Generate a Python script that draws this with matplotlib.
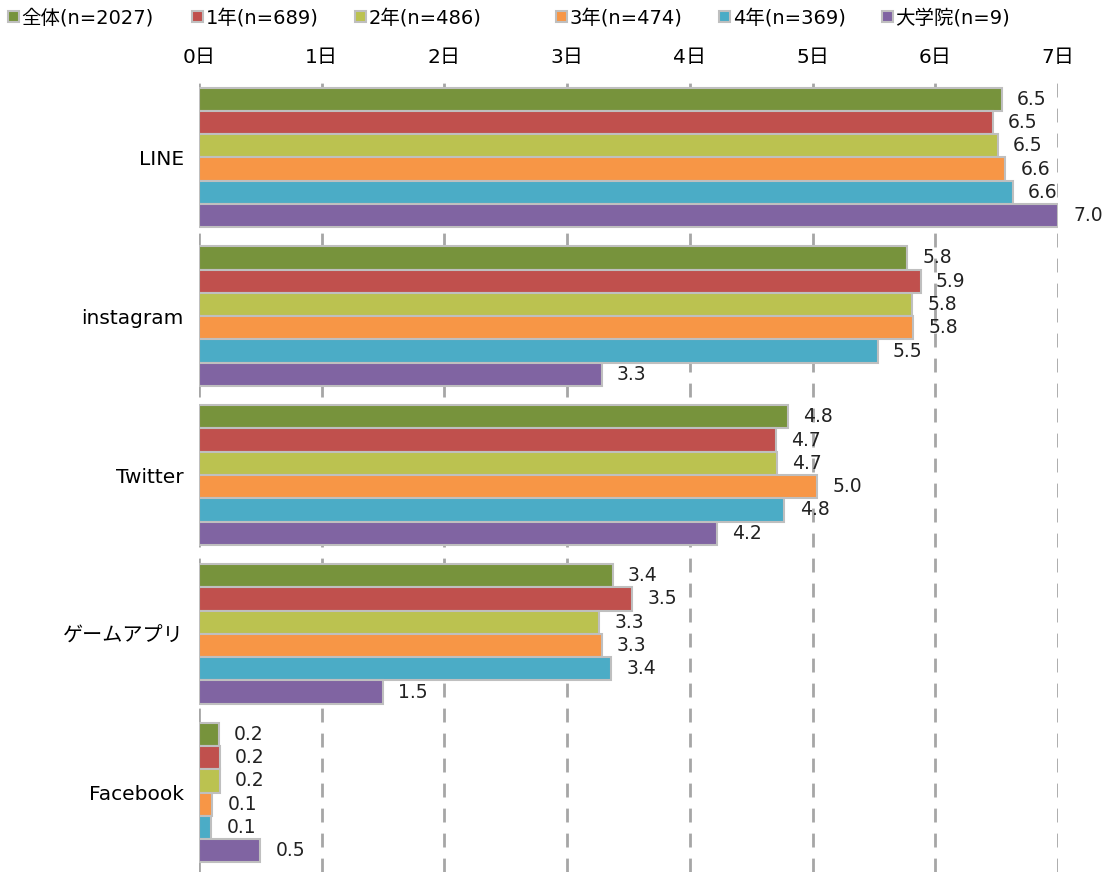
import matplotlib
matplotlib.use("Agg")
import matplotlib.pyplot as plt
from matplotlib.patches import Patch
import numpy as np

plt.rcParams['font.family'] = ['DejaVu Sans', 'Noto Sans CJK JP']

categories = ["LINE", "instagram", "Twitter", "ゲームアプリ", "Facebook"]
series_names = ["全体(n=2027)", "1年(n=689)", "2年(n=486)", "3年(n=474)", "4年(n=369)", "大学院(n=9)"]
v_all   = [6.54, 5.77, 4.80, 3.37, 0.16]
v_y1    = [6.47, 5.88, 4.70, 3.53, 0.17]
v_y2    = [6.51, 5.81, 4.71, 3.26, 0.17]
v_y3    = [6.57, 5.82, 5.04, 3.28, 0.11]
v_y4    = [6.63, 5.53, 4.77, 3.36, 0.10]
v_grad  = [7.00, 3.28, 4.22, 1.50, 0.50]
series_values = [v_all, v_y1, v_y2, v_y3, v_y4, v_grad]
colors = ["#77933C", "#C0504D", "#BBC250", "#F79646", "#4BACC6", "#8064A2"]
xtick_labels = ["0日", "1日", "2日", "3日", "4日", "5日", "6日", "7日"]

W, H = 1105, 872
fig = plt.figure(figsize=(W / 100, H / 100), dpi=100)
ax = fig.add_axes([199 / W, 0.0, (1058 - 199) / W, 1 - 78 / H])

n = len(series_values)
bar_h = 0.88 / n
y = np.arange(len(categories))
for i, (vals, c) in enumerate(zip(series_values, colors)):
    pos = y - 0.44 + bar_h * (i + 0.5)
    ax.barh(pos, vals, height=bar_h, color=c, edgecolor="#BFBFBF",
            linewidth=1.5, zorder=3)
    for p, v in zip(pos, vals):
        ax.annotate(f"{v:.1f}", xy=(v, p), xytext=(11, 0), textcoords="offset points",
                    ha="left", va="center", fontsize=13.5, color="#222222", zorder=4)

ax.set_xlim(0, 7)
ax.set_ylim(len(categories) - 0.5, -0.5)
ax.set_yticks(y)
ax.set_yticklabels(categories, fontsize=14.5)
ax.set_xticks(range(8))
ax.set_xticklabels(xtick_labels, fontsize=14.5)
ax.xaxis.tick_top()
ax.tick_params(axis="both", length=0)
ax.tick_params(axis="x", pad=8)
ax.tick_params(axis="y", pad=11)
for s in ax.spines.values():
    s.set_visible(False)
ax.grid(axis="x", color="#A6A6A6", linestyle=(0, (5, 4)), linewidth=2, zorder=0)
ax.set_axisbelow(True)

legend_x = [8, 192, 355, 556, 719, 882]
for lx, c, name in zip(legend_x, colors, series_names):
    h = Patch(facecolor=c, edgecolor="#BFBFBF", linewidth=1.5)
    fig.legend([h], [name], loc="center left", bbox_to_anchor=(lx / W, 1 - 18 / H),
               frameon=False, fontsize=14, handlelength=0.55, handleheight=0.55,
               handletextpad=0.15, borderaxespad=0, borderpad=0)

fig.savefig("out.png", dpi=100)
